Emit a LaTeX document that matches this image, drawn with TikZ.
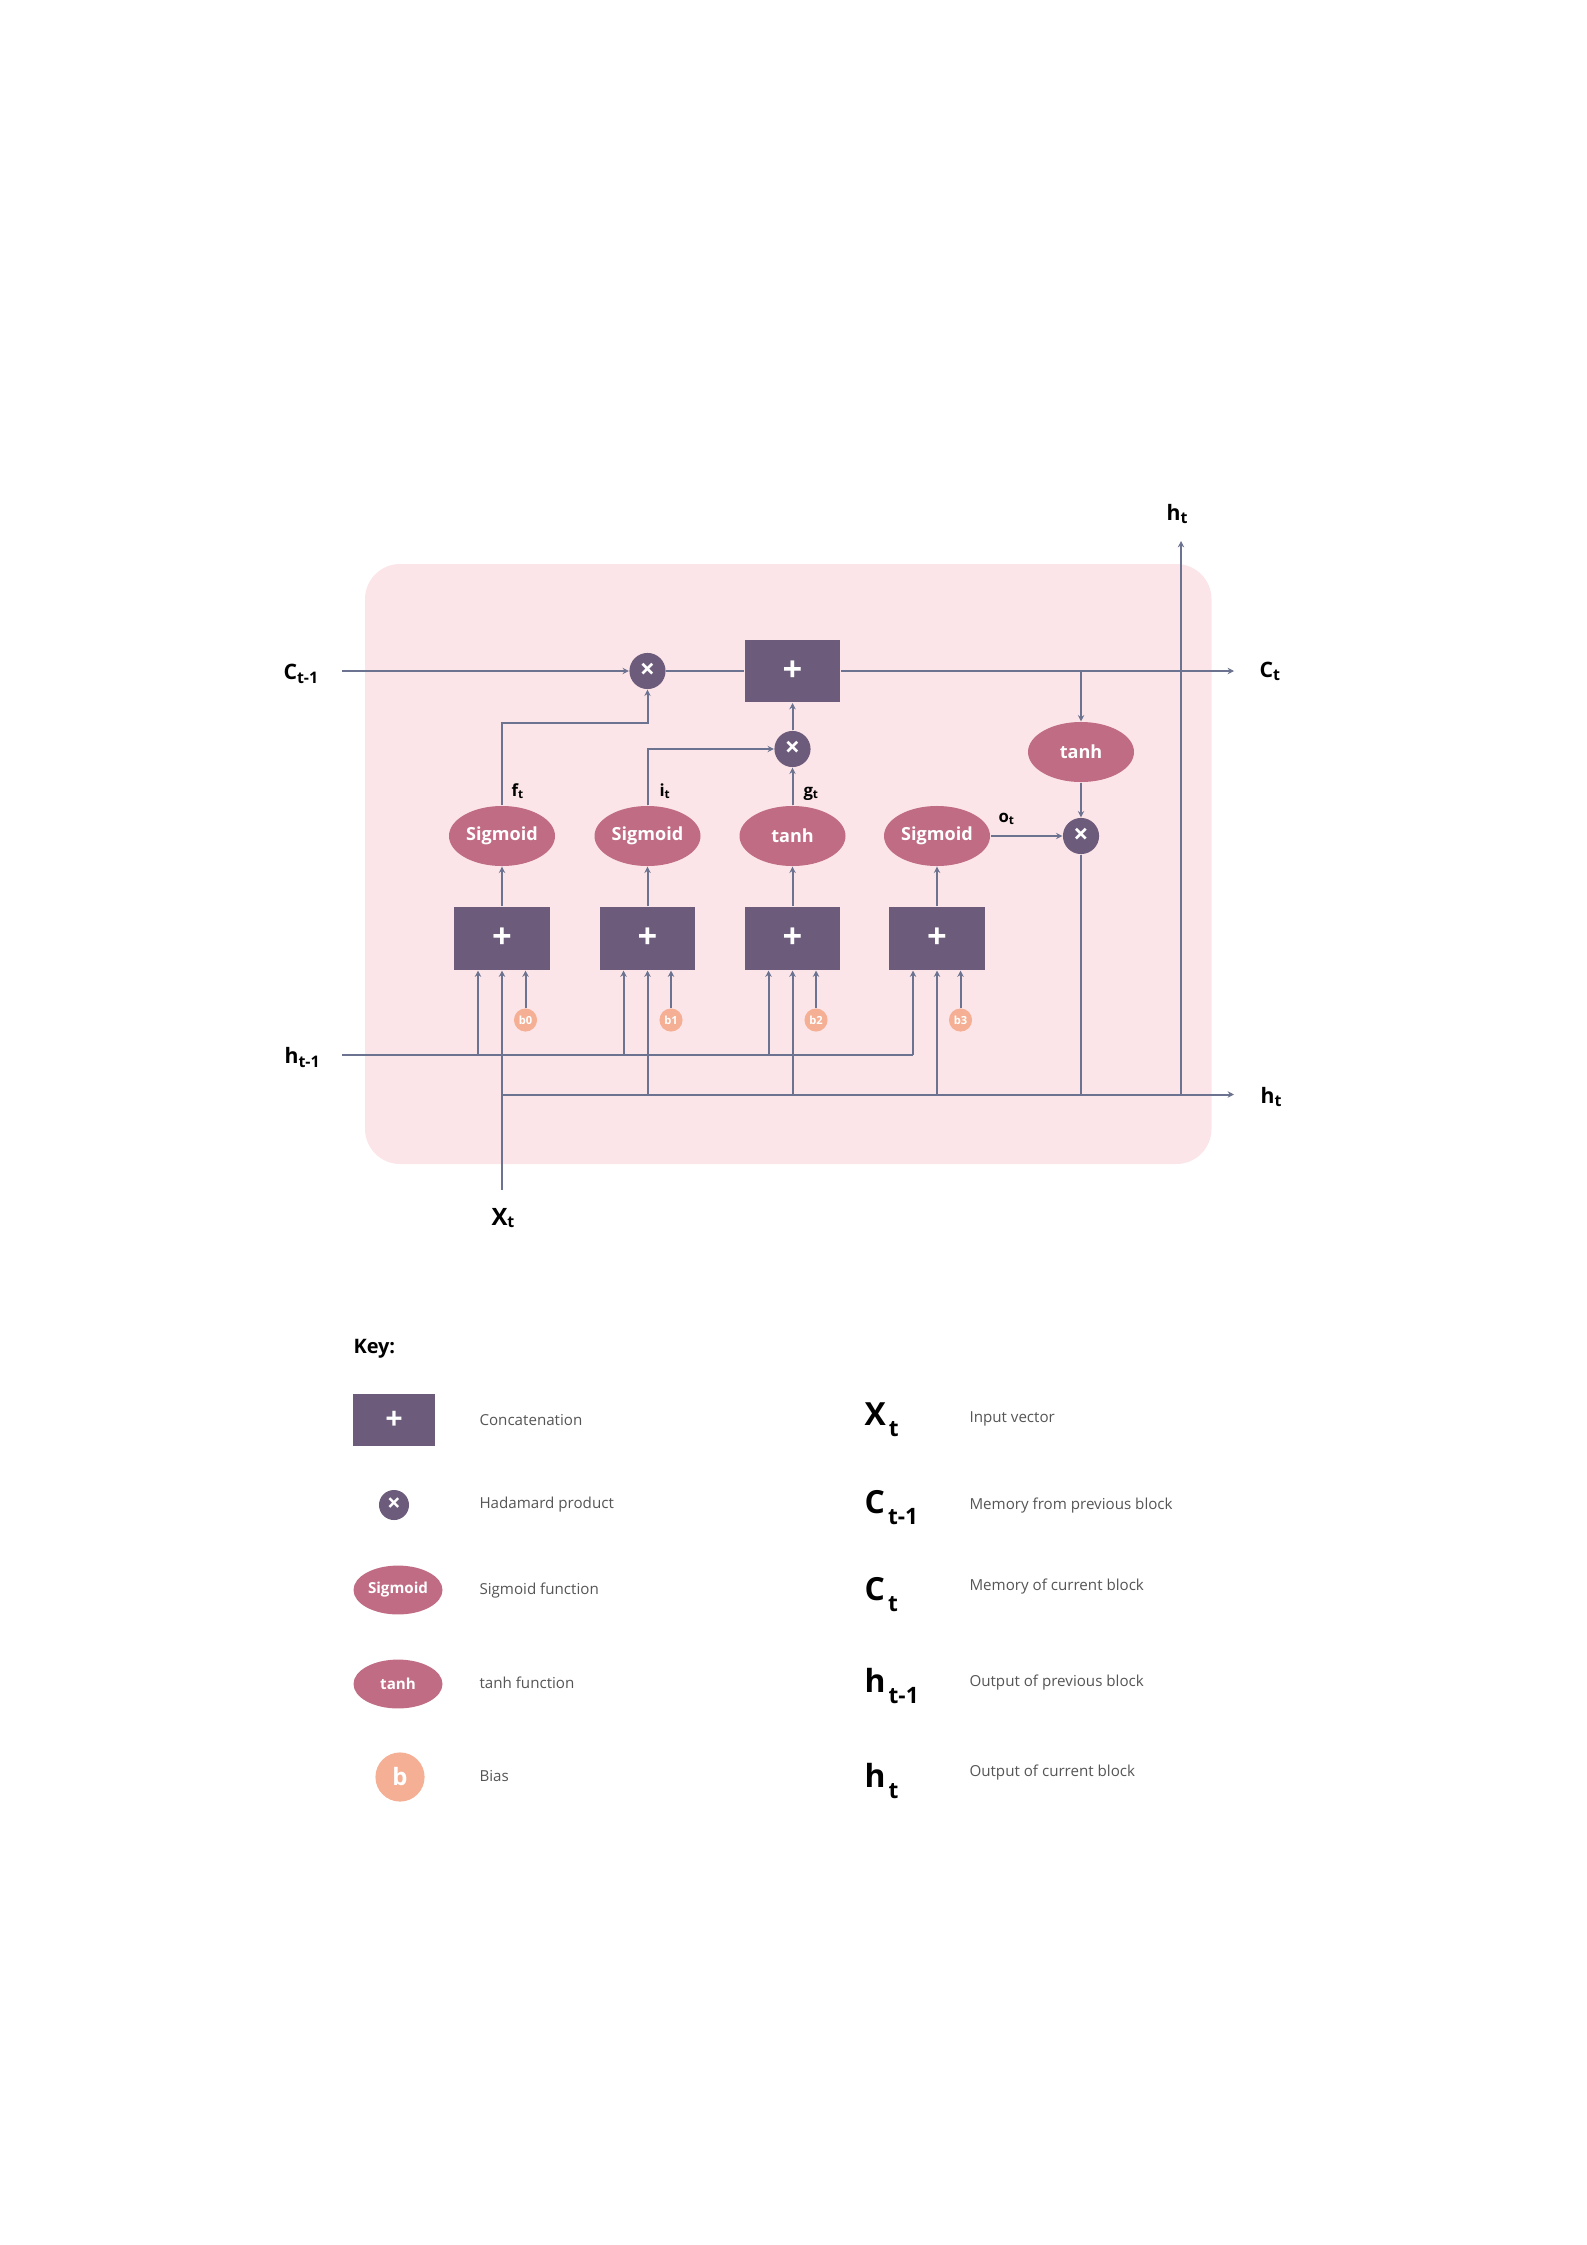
\documentclass[tikz,border=0pt]{standalone}
\usepackage{fontspec}
\setmainfont{Open Sans}
\usepackage{tikz}
\usetikzlibrary{arrows.meta,shapes.geometric}

\definecolor{catpurple}{HTML}{6C5B7B}
\definecolor{actrose}{HTML}{C06C84}
\definecolor{biaspeach}{HTML}{F4AF94}
\definecolor{cellpink}{HTML}{FCE5E8}
\definecolor{wirecol}{HTML}{6B7390}
\definecolor{keytext}{HTML}{555555}

\newcommand{\fsz}[1]{\fontsize{#1}{#1}\selectfont}
\newcommand{\cellsym}[2]{#1\textsubscript{#2}}
\newcommand{\keysym}[2]{\fsz{12}\bfseries #1\hspace{1.2pt}\raisebox{-4.5pt}{\fsz{8.5}\bfseries #2}}

\begin{document}
\begin{tikzpicture}[x=0.013233cm, y=-0.013233cm,
    >={Stealth[length=2.4pt,width=2.4pt]},
    catbox/.style={rectangle, fill=catpurple, minimum width=36.1pt, minimum height=23.7pt, inner sep=0pt, text=white, font=\fsz{13}\bfseries},
    prod/.style={circle, fill=catpurple, minimum size=13.6pt, inner sep=0pt, text=white, font=\fsz{10}\bfseries},
    act/.style={ellipse, fill=actrose, minimum width=39.9pt, minimum height=22.6pt, inner sep=0pt, text=white, font=\fsz{6.8}\bfseries},
    biasdot/.style={circle, fill=biaspeach, minimum size=8.7pt, inner sep=0pt, text=white, font=\fsz{4.2}\bfseries},
    link/.style={draw=wirecol, line width=0.75pt},
    lbl/.style={anchor=base west, inner sep=0pt, font=\fsz{8}\bfseries},
    gatelbl/.style={anchor=base west, inner sep=0pt, font=\fsz{6.3}\bfseries},
    keydesc/.style={anchor=west, inner sep=0pt, text=keytext, font=\fsz{5.7}}]
\useasboundingbox (0,0) rectangle (1587,2245);

% cell background
\fill[cellpink, rounded corners=13.2pt] (365,564) rectangle (1211.5,1164);

% memory path and output gate
\node[catbox] (add) at (792.5,671) {+};
\node[prod] (forget) at (647.5,671) {×};
\node[prod] (input) at (792.5,749) {×};
\node[act] (cellact) at (1081,752) {tanh};
\node[prod] (output) at (1081,836) {×};

\coordinate (cin) at (342,671);
\coordinate (cout) at (1234,671);
\coordinate (ctap) at (1081,671);
\coordinate (hin) at (342,1055);
\coordinate (hout) at (1234,1094.5);
\coordinate (xin) at (502,1190);
\coordinate (xjoin) at (502,1094.5);
\coordinate (htop) at (1181,541);
\coordinate (hbase) at (1181,1094.5);
\coordinate (fturn) at (502,723);
\coordinate (iturn) at (647.5,749);

% gates
\foreach \i/\xx/\fn in {0/502/Sigmoid,1/647.5/Sigmoid,2/792.5/tanh,3/937/Sigmoid} {
    \node[catbox] (cat\i) at (\xx,938.5) {+};
    \node[act] (act\i) at (\xx,836) {\fn};
    \node[biasdot] (b\i) at (\xx+23.5,1020) {b\i};
    \coordinate (hl\i) at (\xx-24,1055);
    \coordinate (lo\i) at (\xx,1094.5);
    \draw[link,->] (cat\i) -- (act\i);
    \draw[link,->] (b\i) -- (b\i |- cat\i.south);
    \draw[link,->] (hl\i) -- (hl\i |- cat\i.south);
}
\foreach \i in {1,2,3}
    \draw[link,->] (lo\i) -- (cat\i.south);

\draw[link,->] (xin) -- (cat0.south);
\draw[link] (hin) -- (hl3);
\draw[link,->] (xjoin) -- (hout);

\draw[link,->] (cin) -- (forget);
\draw[link] (forget) -- (add);
\draw[link,->] (add) -- (cout);
\draw[link,->] (act0) -- (fturn) -| (forget);
\draw[link,->] (act1) -- (iturn) -- (input);
\draw[link,->] (act2) -- (input);
\draw[link,->] (input) -- (add);
\draw[link,->] (ctap) -- (cellact);
\draw[link,->] (cellact) -- (output);
\draw[link,->] (act3) -- (output);
\draw[link] (output) -- (output |- hout);
\draw[link,->] (hbase) -- (htop);

% labels
\node[lbl] (lcprev) at (283,679) {\cellsym{C}{t-1}};
\node[lbl] (lhprev) at (284,1063) {\cellsym{h}{t-1}};
\node[lbl] (lcnext) at (1259,677) {\cellsym{C}{t}};
\node[lbl] (lhnext) at (1260,1103) {\cellsym{h}{t}};
\node[lbl] (lhup) at (1166,520) {\cellsym{h}{t}};
\node[lbl, font=\fsz{9}\bfseries] (lxin) at (491,1225) {\cellsym{X}{t}};
\node[gatelbl] (lf) at (511,796) {\cellsym{f}{t}};
\node[gatelbl] (li) at (659,796) {\cellsym{i}{t}};
\node[gatelbl] (lg) at (803,796) {\cellsym{g}{t}};
\node[gatelbl] (lo) at (998,822) {\cellsym{o}{t}};

% key
\node[anchor=west, inner sep=0pt, font=\fsz{7.5}\bfseries] (key) at (353,1349) {Key:};
\node[catbox, minimum width=30.5pt, minimum height=19.6pt, font=\fsz{11.5}\bfseries] (keycat) at (394,1420) {+};
\node[prod, minimum size=11.3pt, font=\fsz{9}\bfseries] (keyprod) at (394,1505) {×};
\node[act, minimum width=33.5pt, minimum height=18.4pt, font=\fsz{5.7}\bfseries] (keysig) at (398,1590) {Sigmoid};
\node[act, minimum width=33.5pt, minimum height=18.4pt, font=\fsz{5.7}\bfseries] (keytanh) at (398,1684) {tanh};
\node[biasdot, minimum size=18.5pt, font=\fsz{9}\bfseries] (keybias) at (400,1777) {b};
\node[keydesc] (dcat) at (479,1420) {Concatenation};
\node[keydesc] (dprod) at (479,1505) {Hadamard product};
\node[keydesc] (dsig) at (479,1591) {Sigmoid function};
\node[keydesc] (dtanh) at (479,1683) {tanh function};
\node[keydesc] (dbias) at (479,1776) {Bias};

\node[anchor=base west, inner sep=0pt] (kx) at (864,1425) {\keysym{X}{t}};
\node[anchor=base west, inner sep=0pt] (kcprev) at (864,1513) {\keysym{C}{t-1}};
\node[anchor=base west, inner sep=0pt] (kcnext) at (864,1600) {\keysym{C}{t}};
\node[anchor=base west, inner sep=0pt] (khprev) at (864,1692) {\keysym{h}{t-1}};
\node[anchor=base west, inner sep=0pt] (khnext) at (864,1787) {\keysym{h}{t}};
\node[keydesc] (dx) at (969,1419) {Input vector};
\node[keydesc] (dcprev) at (969,1506) {Memory from previous block};
\node[keydesc] (dcnext) at (969,1587) {Memory of current block};
\node[keydesc] (dhprev) at (969,1683) {Output of previous block};
\node[keydesc] (dhnext) at (969,1773) {Output of current block};
\end{tikzpicture}
\end{document}
